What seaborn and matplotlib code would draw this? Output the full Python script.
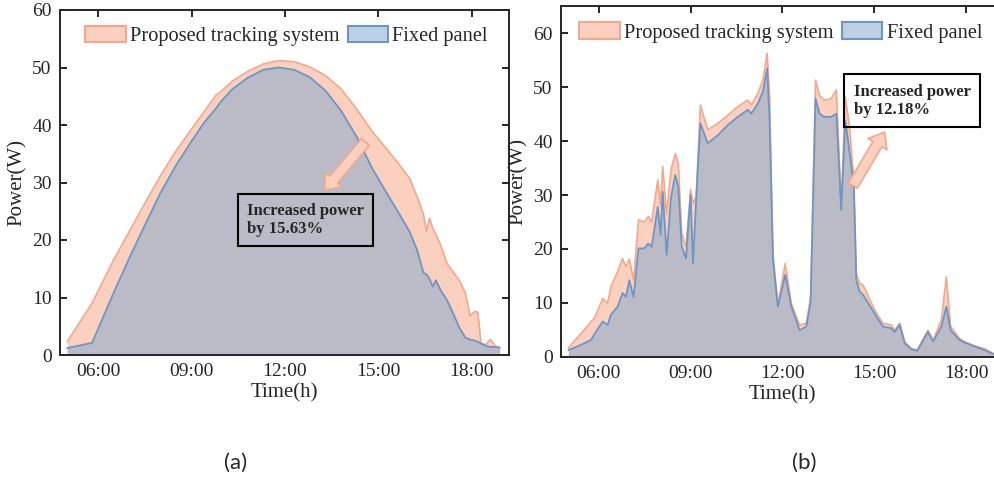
import numpy as np
import pandas as pd
import matplotlib
matplotlib.use('Agg')
import matplotlib.pyplot as plt
import seaborn as sns
from matplotlib.patches import Patch

# Panel (a): clear day, hours of day
hours_a = [5.0, 5.8, 6.5, 7.0, 7.5, 8.0, 8.5, 9.0, 9.4, 9.8, 9.9, 10.3, 10.8, 11.3,
           11.8, 12.3, 12.8, 13.3, 13.8, 14.3, 14.8, 15.2, 15.6, 16.0, 16.25, 16.45,
           16.55, 16.65, 16.75, 16.85, 17.0, 17.2, 17.4, 17.6, 17.8, 17.95, 18.1,
           18.2, 18.3, 18.45, 18.6, 18.75, 18.9]
tracking_a = [2.3, 9.0, 16.6, 21.5, 26.4, 31.2, 35.5, 39.3, 42.3, 45.3, 45.6, 47.6,
              49.3, 50.6, 51.2, 51.0, 50.1, 48.6, 46.3, 42.8, 38.9, 36.3, 33.6, 30.8,
              27.5, 24.5, 21.5, 23.8, 22.0, 21.0, 19.2, 16.0, 14.5, 13.0, 10.8, 6.8,
              7.6, 7.4, 2.0, 1.8, 2.7, 1.6, 1.2]
fixed_a = [1.2, 2.1, 10.9, 16.9, 22.6, 28.2, 33.0, 37.2, 40.4, 43.0, 43.8, 46.2,
           48.2, 49.6, 50.0, 49.6, 48.3, 46.0, 42.5, 38.0, 32.5, 28.8, 25.2, 21.5,
           18.2, 14.3, 14.0, 13.2, 11.9, 13.0, 11.3, 9.6, 7.3, 4.8, 3.0, 2.7, 2.5,
           2.3, 2.0, 1.6, 1.4, 1.4, 1.3]

# Panel (b): cloudy day
hours_b = [5.01, 5.42, 5.75, 5.86, 6.13, 6.29, 6.40, 6.62, 6.78, 6.89, 7.0, 7.14,
           7.3, 7.49, 7.62, 7.73, 7.93, 8.02, 8.09, 8.22, 8.36, 8.5, 8.6, 8.71,
           8.85, 9.0, 9.08, 9.18, 9.32, 9.56, 9.89, 10.22, 10.54, 10.87, 10.98,
           11.2, 11.36, 11.5, 11.58, 11.69, 11.85, 12.09, 12.29, 12.56, 12.78,
           12.92, 13.08, 13.21, 13.37, 13.59, 13.76, 13.92, 14.05, 14.19, 14.33,
           14.41, 14.52, 14.63, 15.01, 15.28, 15.55, 15.66, 15.83, 15.99, 16.21,
           16.4, 16.75, 16.92, 17.19, 17.35, 17.49, 17.78, 17.95, 18.28, 18.6, 18.88]
tracking_b = [1.6, 4.3, 6.5, 7.1, 10.8, 9.9, 13.0, 15.8, 18.2, 16.7, 18.1, 14.2,
              25.4, 25.0, 26.0, 25.0, 32.8, 28.1, 35.3, 26.5, 34.6, 37.7, 35.9, 22.9,
              20.4, 31.0, 28.5, 29.7, 46.7, 42.1, 43.3, 44.8, 46.4, 47.6, 46.7,
              48.9, 51.3, 56.3, 48.2, 19.2, 9.6, 17.3, 9.9, 5.9, 6.2,
              11.1, 51.3, 48.5, 47.6, 47.9, 49.5, 28.0, 48.2, 42.7, 32.8,
              15.5, 13.6, 13.3, 8.7, 6.2, 5.9, 4.9, 6.2, 2.8, 1.5,
              1.2, 4.9, 3.1, 6.8, 14.8, 5.6, 3.4, 2.8, 2.0, 1.5, 0.6]
fixed_b = [1.2, 2.2, 3.1, 4.2, 6.5, 5.9, 7.8, 9.3, 11.8, 11.1, 14.2, 11.1,
           20.1, 20.1, 21.0, 20.4, 27.8, 22.6, 30.6, 18.9, 29.5, 33.7, 31.5, 20.5,
           18.2, 30.0, 17.3, 28.8, 43.3, 39.6, 41.1, 43.0, 44.5, 45.8, 45.1,
           47.0, 49.2, 53.5, 43.9, 17.9, 9.3, 15.2, 9.3, 4.9, 5.6,
           10.2, 47.9, 45.1, 44.5, 44.5, 45.1, 27.2, 43.9, 38.0, 31.5,
           14.2, 12.1, 11.5, 8.0, 5.6, 5.3, 4.6, 5.9, 2.5, 1.4,
           1.1, 4.6, 2.8, 5.6, 9.3, 4.9, 3.1, 2.6, 1.9, 1.2, 0.5]

tick_hours = [6, 9, 12, 15, 18]
tick_labels = ['06:00', '09:00', '12:00', '15:00', '18:00']
gains = ['15.63%', '12.18%']

salmon_line = '#f2a88c'
salmon_fill = '#fbd0be'
blue_line = '#6e95c3'
grey_fill = '#babbc7'
blue_patch = '#bdd1e5'

sns.set_style('ticks')
plt.rcParams['font.family'] = ['Liberation Serif', 'DejaVu Serif']
plt.rcParams['xtick.direction'] = 'in'
plt.rcParams['ytick.direction'] = 'in'

fig = plt.figure(figsize=(9.94, 4.79), dpi=100)
ax_a = fig.add_axes([60 / 994, 1 - 355 / 479, 449 / 994, 345 / 479])
ax_b = fig.add_axes([561 / 994, 1 - 356.7 / 479, 442 / 994, 350.3 / 479])

df_a = pd.DataFrame({'hour': hours_a, 'tracking': tracking_a, 'fixed': fixed_a})
df_b = pd.DataFrame({'hour': hours_b, 'tracking': tracking_b, 'fixed': fixed_b})


def draw_panel(ax, df, ymax):
    ax.fill_between(df['hour'], df['tracking'], color=salmon_fill, lw=0, zorder=1)
    ax.fill_between(df['hour'], df['fixed'], color=grey_fill, lw=0, zorder=2)
    sns.lineplot(data=df, x='hour', y='tracking', ax=ax, color=salmon_line,
                 lw=1.2, zorder=3)
    sns.lineplot(data=df, x='hour', y='fixed', ax=ax, color=blue_line,
                 lw=1.3, zorder=4)
    ax.set_xlim(4.77, 19.2)
    ax.set_ylim(0, ymax)
    ax.set_xticks(tick_hours)
    ax.set_xticklabels(tick_labels)
    ax.set_yticks(range(0, 61, 10))
    ax.tick_params(labelsize=14, length=5, width=1.4, top=True, right=True, pad=6)
    for s in ax.spines.values():
        s.set_linewidth(1.4)
    ax.set_xlabel('Time(h)', fontsize=15, labelpad=2)
    ax.set_ylabel('Power(W)', fontsize=15, labelpad=4)
    handles = [Patch(facecolor=salmon_fill, edgecolor=salmon_line, lw=1.5),
               Patch(facecolor=blue_patch, edgecolor=blue_line, lw=1.5)]
    ax.legend(handles, ['Proposed tracking system', 'Fixed panel'], ncol=2,
              frameon=False, fontsize=14.7, loc='upper right',
              bbox_to_anchor=(0.985, 0.995), handlelength=2.0, handleheight=0.85,
              handletextpad=0.2, columnspacing=0.4, borderpad=0.2)


draw_panel(ax_a, df_a, 60)
draw_panel(ax_b, df_b, 65)

arrow = dict(arrowstyle='simple,head_length=1.0,head_width=1.6,tail_width=0.75',
             fc=salmon_fill, ec=salmon_line, lw=1.2)
box = dict(boxstyle='square,pad=0.55', fc='none', ec='black', lw=1.5)

ax_a.annotate('', xy=(13.22, 28.3), xytext=(14.64, 37.4), arrowprops=arrow, zorder=5)
ax_a.text(12.67, 23.5, 'Increased power\nby ' + gains[0], fontsize=12,
          fontweight='bold', ha='center', va='center', multialignment='left',
          bbox=box, zorder=6)

ax_b.annotate('', xy=(15.38, 42.1), xytext=(14.25, 31.3), arrowprops=arrow, zorder=5)
ax_b.text(16.23, 47.5, 'Increased power\nby ' + gains[1], fontsize=12,
          fontweight='bold', ha='center', va='center', multialignment='left',
          bbox=box, zorder=6)

fig.text(236 / 994, 1 - 463 / 479, '(a)', fontsize=16, family='Lato',
         ha='center', va='center')
fig.text(804 / 994, 1 - 463 / 479, '(b)', fontsize=16, family='Lato',
         ha='center', va='center')

fig.savefig('out.png', dpi=100)
